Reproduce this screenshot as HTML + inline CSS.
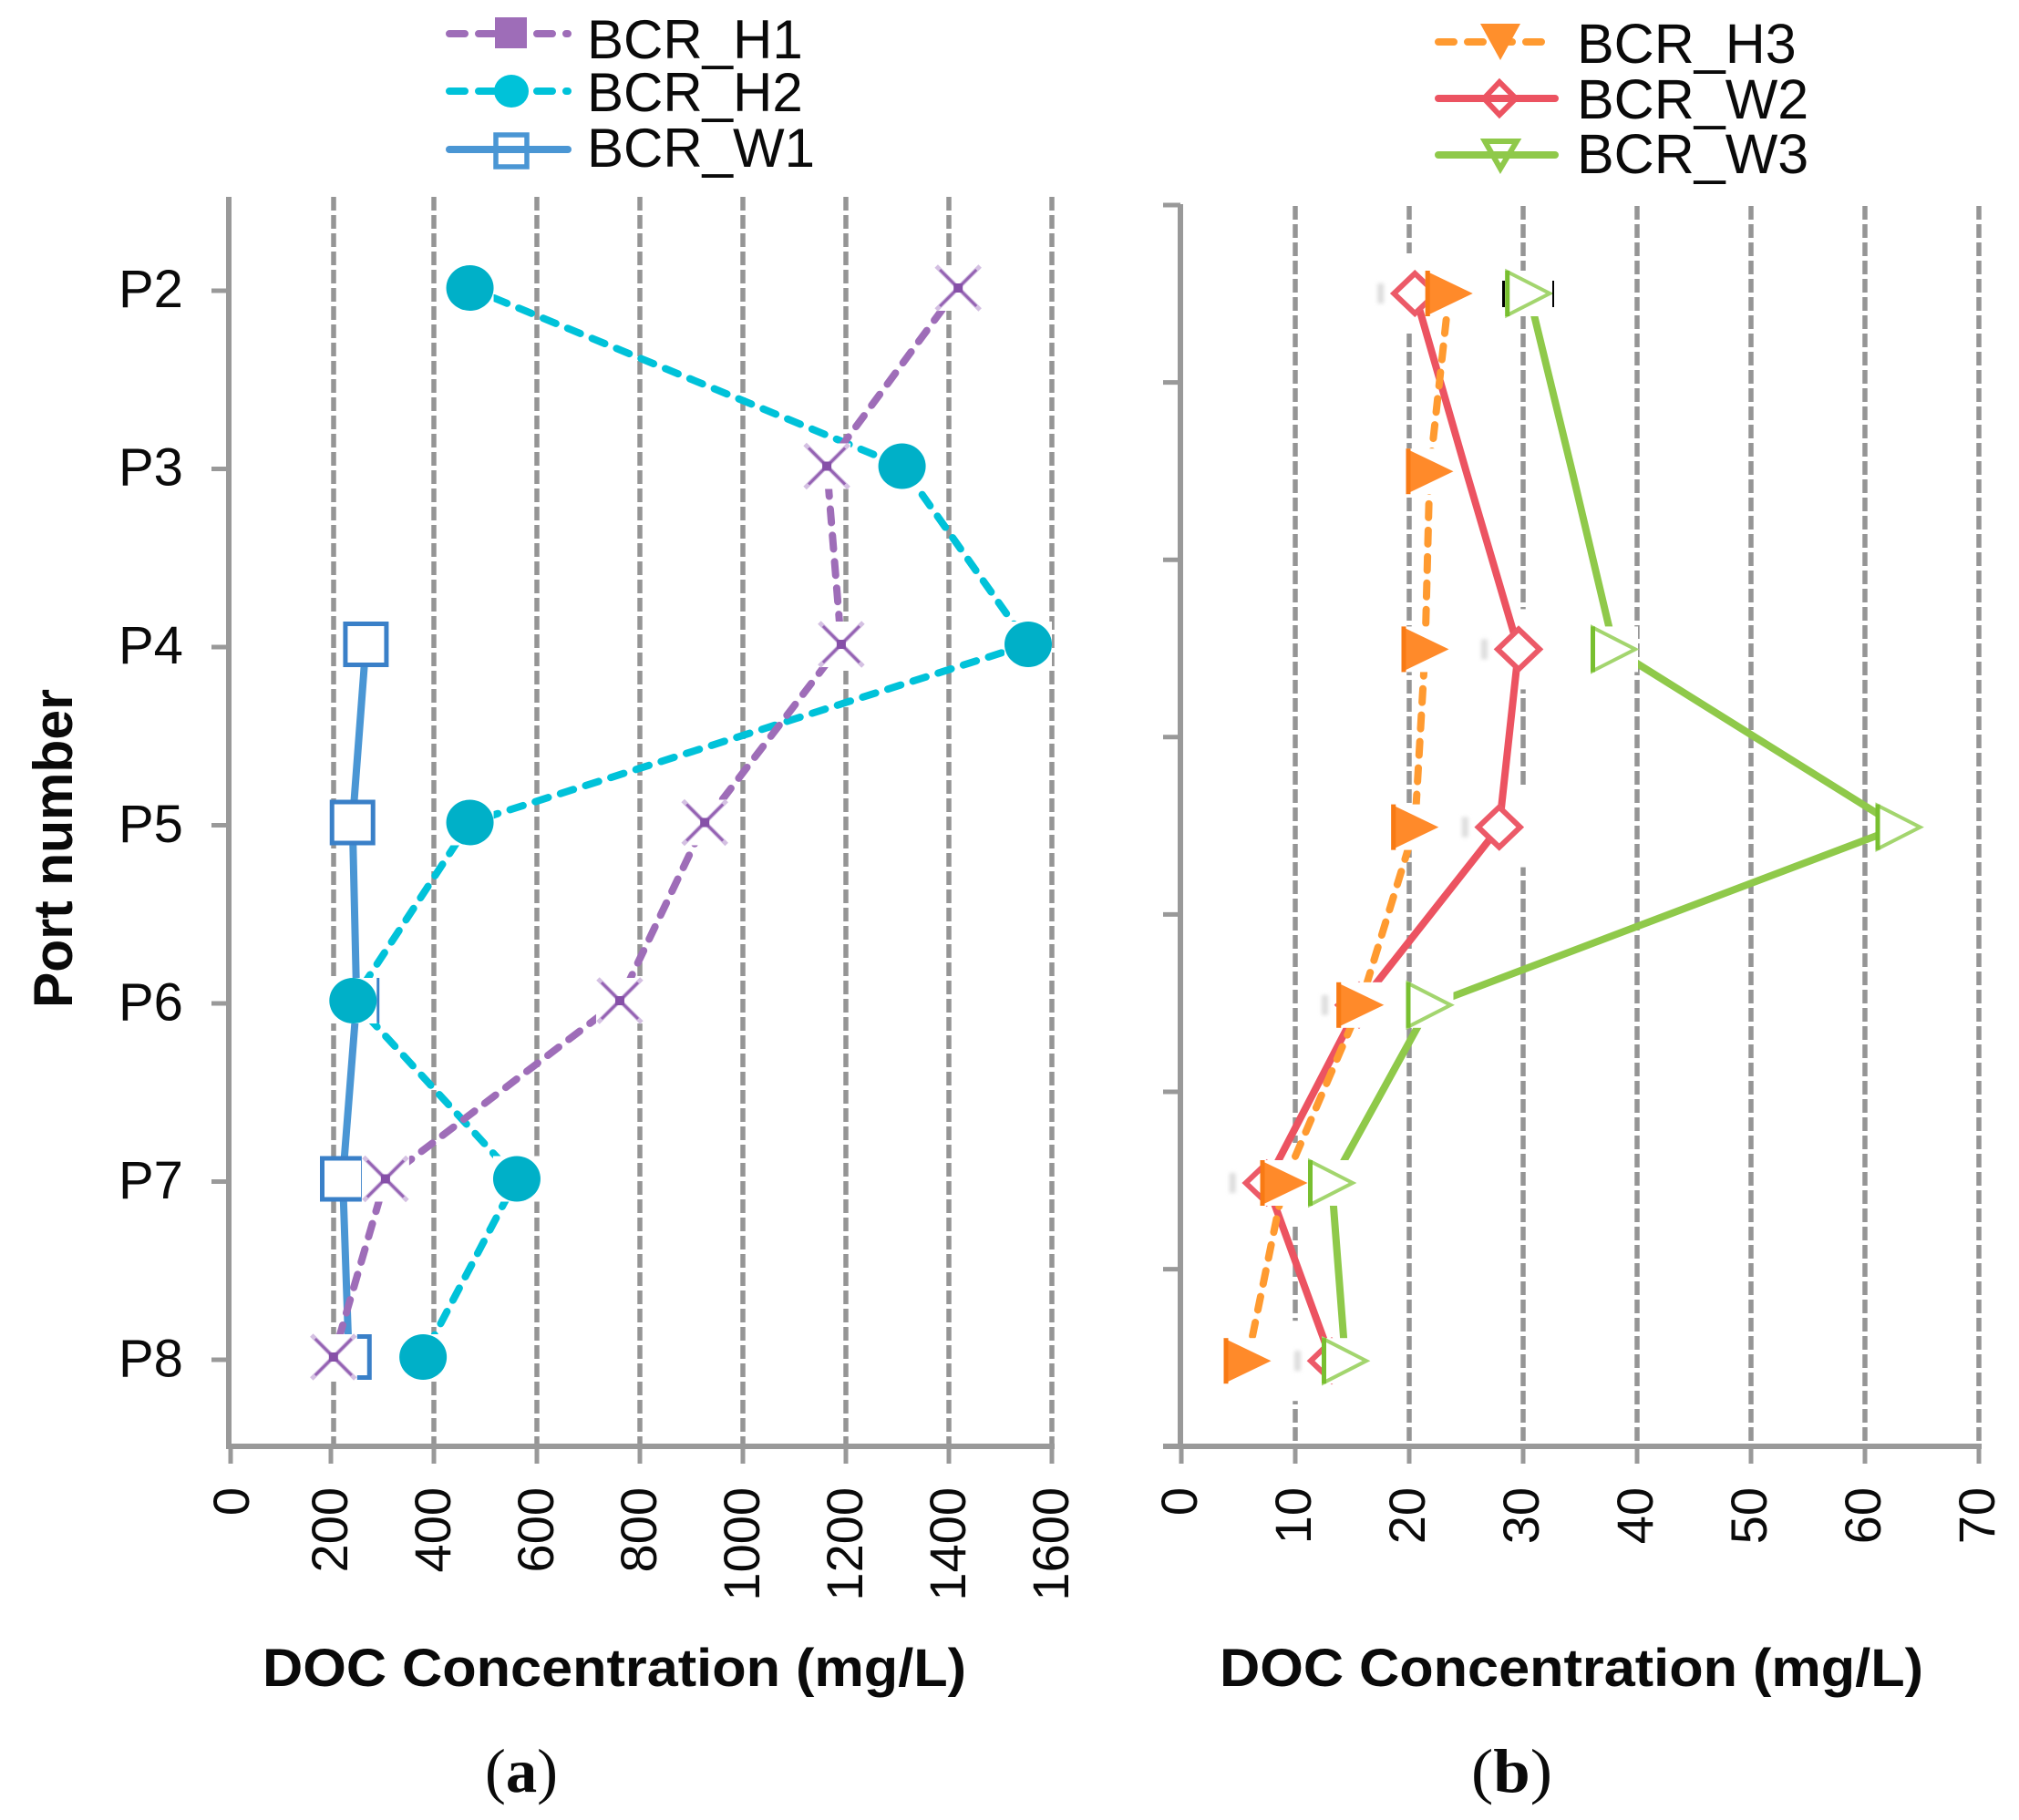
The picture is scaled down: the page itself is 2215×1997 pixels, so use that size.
<!DOCTYPE html>
<html lang="en">
<head>
<meta charset="utf-8">
<title>DOC concentration by port number</title>
<style>
html,body{margin:0;padding:0;background:#fff;}
svg{display:block;}
text{font-family:"Liberation Sans",Arial,sans-serif;fill:#0a0a0a;}
</style>
</head>
<body>
<svg id="chart" xmlns="http://www.w3.org/2000/svg" width="2215" height="1997" viewBox="0 0 2215 1997">
  <defs>
    <filter id="soft" x="-100%" y="-50%" width="300%" height="200%"><feGaussianBlur stdDeviation="2"></feGaussianBlur></filter>
  </defs>
  <rect x="0" y="0" width="2215" height="1997" fill="#ffffff"></rect>
</svg>
<script>
const ports = ['P2','P3','P4','P5','P6','P7','P8'];
const ticksA = [0,200,400,600,800,1000,1200,1400,1600];
const ticksB = [0,10,20,30,40,50,60,70];
const valuesH1 = [1418,1163,1191,926,761,306,205];
const valuesH2 = [470,1309,1554,470,243,561,379];
const valuesW1 = [null,null,268,242,250,223,235];
const valuesH3 = [23.5,21.8,21.4,20.5,15.7,9.0,5.8];
const valuesW2 = [20.5,25.0,29.6,27.9,15.6,7.5,13.2];
const valuesW3 = [30.5,34.3,38.0,63.0,21.8,13.2,14.4];
const unmarkedW2 = ['P3'];
const unmarkedW3 = ['P3'];

const svg = document.getElementById('chart');
const NS = 'http://www.w3.org/2000/svg';
const GRID = '#959595';
const AXIS = '#999999';
const cH1 = '#9e6db8', cH2 = '#00c2d9', cW1 = '#4a96d4', cH3 = '#ff9a30', cW2 = '#ec5361', cW3 = '#8fc94a';

function xA(v){ return 250 + v * (1154 - 250) / 1600; }
function yA(i){ return 316 + i * 195.5; }
function xB(v){ return 1296 + v * (2171 - 1296) / 70; }
function yB(i){ return 322 + i * 195.2; }

function el(tag, attrs, parent){
  const n = document.createElementNS(NS, tag);
  for (const k in attrs) n.setAttribute(k, attrs[k]);
  (parent || svg).appendChild(n);
  return n;
}
function group(){
  return el('g', {});
}
function path(points){
  let d = '';
  let pen = false;
  for (const p of points){
    if (p === null){ pen = false; continue; }
    d += (pen ? 'L' : 'M') + p[0] + ' ' + p[1];
    pen = true;
  }
  return d;
}
function label(parent, str, attrs){
  const t = el('text', attrs, parent);
  t.textContent = str;
  return t;
}

/* ---------- panel a: axes ---------- */
const axesA = group();


ticksA.forEach(function(v){
  if (v !== 0){
    const gx = xA(v) + (v === 200 ? 3 : 0);
    const g = el('line', {x1:gx, x2:gx, y1:216, y2:1587, stroke:GRID, 'stroke-width':5.5, 'stroke-dasharray':'15 5'}, axesA);
    
    
  }
  const t = el('line', {x1:xA(v)+(v===0?3:0), x2:xA(v)+(v===0?3:0), y1:1587, y2:1606, stroke:AXIS, 'stroke-width':5}, axesA);
  
  
  const x = xA(v) + (v===0?3:-2);
  const l = label(axesA, String(v), {x:x, y:1632, transform:'rotate(-90 '+x+' 1632)', 'text-anchor':'end', dy:'0.36em', 'font-size':56});
  
  
});
const yAxisA = el('line', {x1:251, x2:251, y1:216, y2:1590, stroke:AXIS, 'stroke-width':6}, axesA);


const xAxisA = el('line', {x1:248, x2:1157, y1:1587, y2:1587, stroke:AXIS, 'stroke-width':6}, axesA);


ports.forEach(function(p, i){
  const t = el('line', {x1:232, x2:251, y1:yA(i)+3, y2:yA(i)+3, stroke:AXIS, 'stroke-width':5}, axesA);
  
  
  const l = label(axesA, p, {x:130, y:337 + i*195.6, 'font-size':58});
  
  
});
const yTitle = label(axesA, 'Port number', {x:79, y:1106, transform:'rotate(-90 79 1106)', 'font-size':60, 'font-weight':'bold', textLength:350, lengthAdjust:'spacingAndGlyphs'});


const xTitleA = label(axesA, 'DOC Concentration (mg/L)', {x:288, y:1850, 'font-size':58, 'font-weight':'bold', textLength:772, lengthAdjust:'spacingAndGlyphs'});



/* ---------- panel b: axes ---------- */
const axesB = group();


ticksB.forEach(function(v){
  if (v !== 0){
    const g = el('line', {x1:xB(v), x2:xB(v), y1:226, y2:1587, stroke:GRID, 'stroke-width':5.5, 'stroke-dasharray':'15 5'}, axesB);
    
    
  }
  const t = el('line', {x1:xB(v), x2:xB(v), y1:1587, y2:1606, stroke:AXIS, 'stroke-width':5}, axesB);
  
  
  const lx = xB(v) - 3;
  const l = label(axesB, String(v), {x:lx, y:1632, transform:'rotate(-90 '+lx+' 1632)', 'text-anchor':'end', dy:'0.36em', 'font-size':56});
  
  
});
const yAxisB = el('line', {x1:1295, x2:1295, y1:224, y2:1590, stroke:AXIS, 'stroke-width':6}, axesB);


const xAxisB = el('line', {x1:1276, x2:2174, y1:1587, y2:1587, stroke:AXIS, 'stroke-width':6}, axesB);


for (let i = 0; i <= 7; i++){
  const ty = 225 + i * 194.6;
  const t = el('line', {x1:1276, x2:1295, y1:ty, y2:ty, stroke:AXIS, 'stroke-width':5}, axesB);
  
  
}
const xTitleB = label(axesB, 'DOC Concentration (mg/L)', {x:1338, y:1850, 'font-size':58, 'font-weight':'bold', textLength:772, lengthAdjust:'spacingAndGlyphs'});



/* ---------- panel captions ---------- */
const capA = el('text', {x:532, y:1966, 'font-size':68, textLength:80, lengthAdjust:'spacingAndGlyphs', style:'font-family:"Liberation Serif",serif'});
capA.innerHTML = '(<tspan font-weight="bold">a</tspan>)';


const capB = el('text', {x:1614, y:1966, 'font-size':68, textLength:89, lengthAdjust:'spacingAndGlyphs', style:'font-family:"Liberation Serif",serif'});
capB.innerHTML = '(<tspan font-weight="bold">b</tspan>)';



/* ---------- marker drawing ---------- */
function halo(parent, x, y){
  const h = el('rect', {x:x-26, y:y-25, width:52, height:50, fill:'#ffffff'}, parent);
  
  
}
function markX(parent, x, y){
  halo(parent, x, y);
  const m = el('g', {}, parent);
  
  
  el('path', {d:'M'+(x-24)+' '+(y-24)+'L'+(x+24)+' '+(y+24)+'M'+(x+24)+' '+(y-24)+'L'+(x-24)+' '+(y+24), stroke:'#d4c0e2', 'stroke-width':5, fill:'none'}, m);
  el('path', {d:'M'+(x-20)+' '+(y-20)+'L'+(x+20)+' '+(y+20)+'M'+(x+20)+' '+(y-20)+'L'+(x-20)+' '+(y+20), stroke:'#9563b3', 'stroke-width':3, fill:'none'}, m);
  el('rect', {x:x-5, y:y-5, width:10, height:10, fill:'#8650a8'}, m);
}
function markCircle(parent, x, y){
  halo(parent, x, y);
  const m = el('ellipse', {cx:x, cy:y, rx:26, ry:25, fill:'#00b0c8'}, parent);
  
  
}
function markBox(parent, x, y){
  const m = el('rect', {x:x-22.5, y:y-22.5, width:45, height:45, fill:'#ffffff', stroke:'#3a80c8', 'stroke-width':5}, parent);
  
  
}
function markTri(parent, x, y){
  halo(parent, x, y);
  const m = el('g', {}, parent);
  
  
  el('polygon', {points:(x-26)+','+(y-25)+' '+(x+26)+','+y+' '+(x-26)+','+(y+25), fill:'#ff8a2a'}, m);
  el('rect', {x:x-26, y:y-25, width:5, height:50, fill:'#f87a14'}, m);
}
function markDiamond(parent, x, y){
  const m = el('polygon', {points:(x-23)+','+y+' '+x+','+(y-22)+' '+(x+23)+','+y+' '+x+','+(y+22), fill:'#ffffff', stroke:'#ec5a68', 'stroke-width':6}, parent);
  
  
  const s = el('rect', {x:x-41, y:y-11, width:7, height:22, fill:'#dddddd', filter:'url(#soft)'}, parent);
  
  
}
function markOpenTri(parent, x, y){
  halo(parent, x, y);
  const m = el('g', {}, parent);
  
  
  el('polygon', {points:(x-24)+','+(y-24)+' '+(x+23)+','+y+' '+(x-24)+','+(y+24), fill:'#ffffff', stroke:'#a3d56e', 'stroke-width':4}, m);
  el('rect', {x:x-26, y:y-25, width:5, height:50, fill:'#78bf30'}, m);
}

/* ---------- series ---------- */
function drawSeries(name, values, xf, yf, color, dashed, marker, skip){
  const g = group();
  
  
  const pts = values.map(function(v, i){ return v === null ? null : [xf(v), yf(i)]; });
  const attrs = {d:path(pts), fill:'none', stroke:color, 'stroke-width':8};
  if (dashed){
    attrs['stroke-dasharray'] = '15 14';
    attrs['stroke-linecap'] = 'round';
  }
  const ln = el('path', attrs, g);
  
  
  values.forEach(function(v, i){
    if (v === null) return;
    if (skip && skip.indexOf(ports[i]) >= 0) return;
    marker(g, xf(v), yf(i));
  });
}
drawSeries('bcr-w1', valuesW1, xA, yA, cW1, false, markBox);
drawSeries('bcr-h2', valuesH2, xA, yA, cH2, true, markCircle);
drawSeries('bcr-h1', valuesH1, xA, yA, cH1, true, markX);

/* panel b: diamond backing hides gridlines, then series */
valuesW2.forEach(function(v, i){
  if (unmarkedW2.indexOf(ports[i]) >= 0) return;
  const b = el('rect', {x:xB(v)-48, y:yB(i)-44, width:96, height:88, fill:'#ffffff'});
  
  
});
drawSeries('bcr-w2', valuesW2, xB, yB, cW2, false, markDiamond, unmarkedW2);
drawSeries('bcr-h3', valuesH3, xB, yB, cH3, true, markTri);
drawSeries('bcr-w3', valuesW3, xB, yB, cW3, false, markOpenTri, unmarkedW3);

/* error bar caps at P2 on BCR_W3 */
const capL = el('rect', {x:1648, y:308, width:3, height:29, fill:'#000000'});


const capR = el('rect', {x:1703, y:308, width:2, height:29, fill:'#000000'});



/* ---------- legends ---------- */
function legendLine(x1, x2, y, color, dashed){
  const a = {x1:x1, x2:x2, y1:y, y2:y, stroke:color, 'stroke-width':8, 'stroke-linecap':'round'};
  if (dashed) a['stroke-dasharray'] = '17 15';
  return el('line', a);
}
const l1 = legendLine(493, 623, 37, cH1, true);


const lm1 = el('rect', {x:543, y:19, width:35, height:34, fill:cH1});


const lt1 = label(svg, 'BCR_H1', {x:644, y:64, 'font-size':60});



const l2 = legendLine(493, 623, 100, cH2, true);


const lm2 = el('ellipse', {cx:561, cy:100, rx:19, ry:18, fill:cH2});


const lt2 = label(svg, 'BCR_H2', {x:644, y:122, 'font-size':60});



const l3 = legendLine(493, 623, 164, cW1, false);


const lm3 = el('rect', {x:544, y:148, width:34, height:35, fill:'none', stroke:cW1, 'stroke-width':5.5});


const lt3 = label(svg, 'BCR_W1', {x:644, y:183, 'font-size':60});



const l4 = legendLine(1578, 1706, 46, cH3, true);


const lm4 = el('polygon', {points:'1624,26 1668,26 1646,66', fill:'#ff8f2c'});


const lt4 = label(svg, 'BCR_H3', {x:1730, y:69, 'font-size':61});



const l5 = legendLine(1578, 1706, 108, cW2, false);


const lm5 = el('polygon', {points:'1628,108 1645,90 1663,108 1645,126', fill:'none', stroke:cW2, 'stroke-width':6}, );


const lt5 = label(svg, 'BCR_W2', {x:1730, y:130, 'font-size':61});



const l6 = legendLine(1578, 1706, 170, cW3, false);


const lm6 = el('polygon', {points:'1629,155 1664,155 1646,185', fill:'none', stroke:cW3, 'stroke-width':6});


const lt6 = label(svg, 'BCR_W3', {x:1730, y:190, 'font-size':61});


</script>
</body>
</html>
